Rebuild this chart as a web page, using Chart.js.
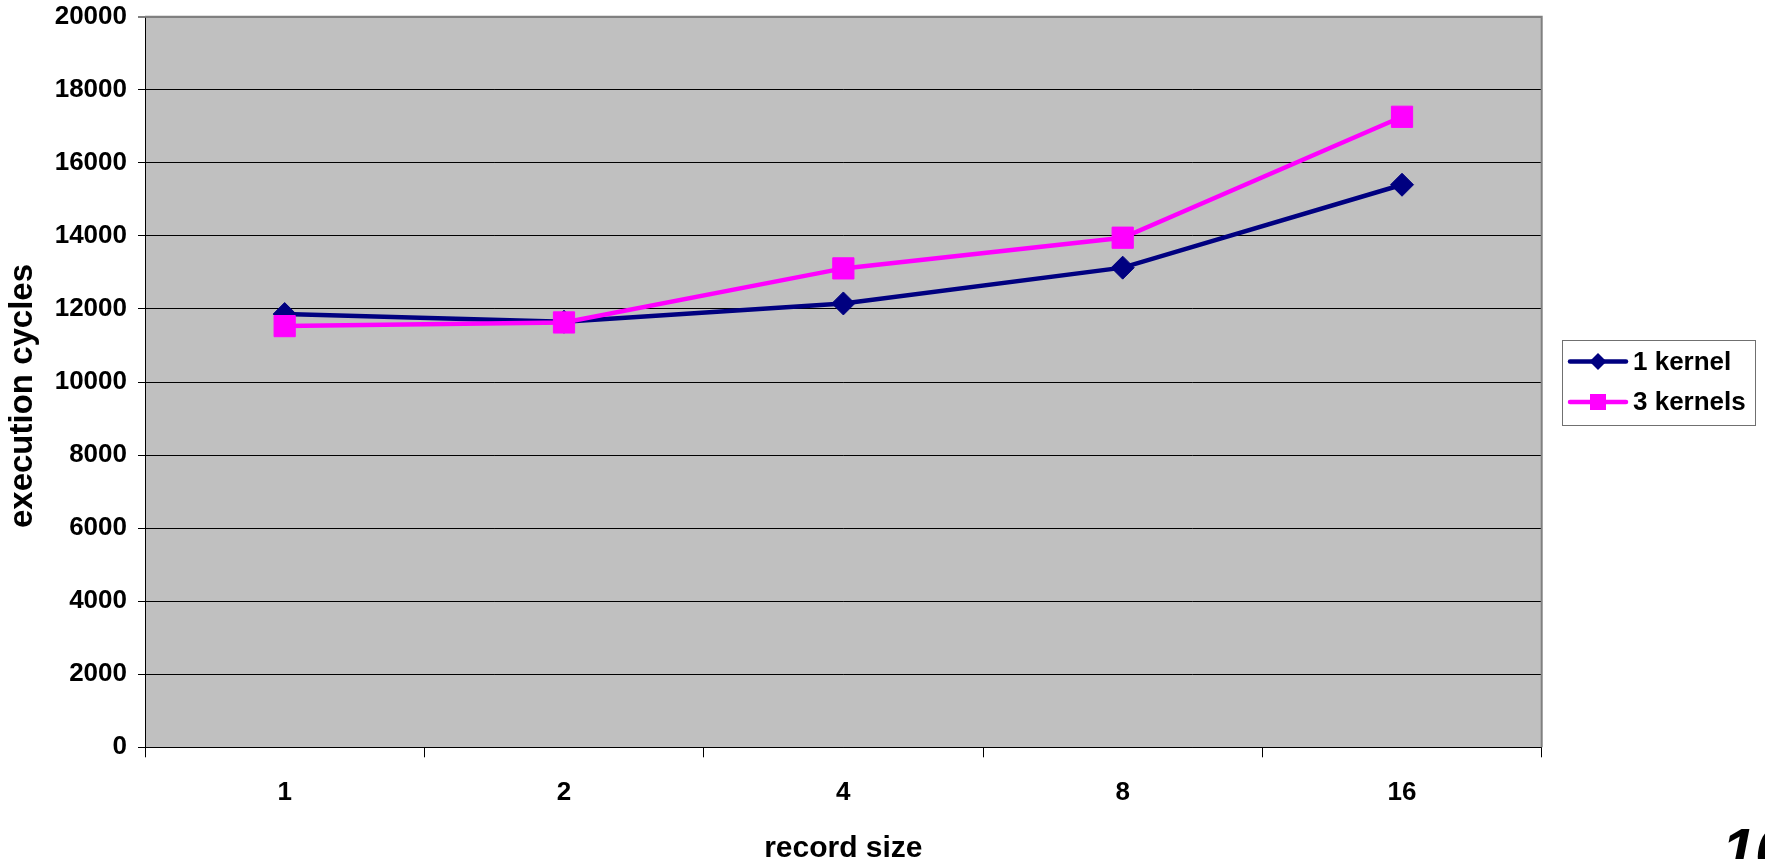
<!DOCTYPE html>
<html>
<head>
<meta charset="utf-8">
<script src="https://cdn.jsdelivr.net/npm/chart.js@4.4.1/dist/chart.umd.min.js"></script>
<style>
  html, body { margin: 0; padding: 0; background: #fff; overflow: hidden; width: 1765px; height: 859px; }
  #wrap { position: absolute; left: 0; top: 0; width: 1765px; height: 859px; }
  #pg { position: absolute; left: 1722px; top: 820px; font: italic bold 60px "Liberation Sans", Arial, sans-serif;
        line-height: 1; color: #000; white-space: nowrap; }
</style>
</head>
<body>
<div id="wrap"><canvas id="c" width="1765" height="859"></canvas></div>
<div id="pg">10</div>
<script>
// Record sizes on the x axis
const recordSizes = ['1', '2', '4', '8', '16'];
// Execution cycles per configuration
const oneKernel = [11860, 11650, 12150, 13130, 15400];
const threeKernels = [11530, 11630, 13110, 13950, 17260];
const seriesNames = ['1 kernel', '3 kernels'];
const xTitle = 'record size';
const yTitle = 'execution cycles';
// Value axis range
const yMin = 0;
const yMax = 20000;
const yStep = 2000;

const FONT = '"Liberation Sans", Arial, Helvetica, sans-serif';
const NAVY = '#000080';
const MAGENTA = '#FF00FF';

// Grey plot background, grey frame on top/right
const plotFrame = {
  id: 'plotFrame',
  beforeDraw(chart) {
    const { ctx, chartArea: a } = chart;
    ctx.save();
    ctx.fillStyle = '#fff';
    ctx.fillRect(0, 0, chart.width, chart.height);
    ctx.fillStyle = '#C0C0C0';
    ctx.fillRect(a.left, a.top, a.right - a.left, a.bottom - a.top);
    ctx.restore();
  },
  beforeDatasetsDraw(chart) {
    const { ctx, chartArea: a } = chart;
    ctx.save();
    ctx.strokeStyle = '#808080';
    ctx.lineWidth = 2;
    ctx.beginPath();
    ctx.moveTo(a.left, a.top);
    ctx.lineTo(a.right, a.top);
    ctx.lineTo(a.right, a.bottom);
    ctx.stroke();
    ctx.restore();
  }
};

// Vertical value-axis title, sitting a little below the plot's midline
const valueTitle = {
  id: 'valueTitle',
  afterDraw(chart) {
    const { ctx } = chart;
    ctx.save();
    ctx.translate(23, 396);
    ctx.rotate(-Math.PI / 2);
    ctx.fillStyle = '#000';
    ctx.font = 'bold 33px ' + FONT;
    ctx.textAlign = 'center';
    ctx.textBaseline = 'middle';
    ctx.fillText(yTitle, 0, 0);
    ctx.restore();
  }
};

// Boxed legend with line + marker samples
const boxLegend = {
  id: 'boxLegend',
  afterDraw(chart) {
    const { ctx } = chart;
    const box = { x: 1562, y: 340, w: 193, h: 85 };
    ctx.save();
    ctx.fillStyle = '#fff';
    ctx.fillRect(box.x, box.y, box.w, box.h);
    ctx.strokeStyle = '#707070';
    ctx.lineWidth = 1;
    ctx.strokeRect(box.x + 0.5, box.y + 0.5, box.w, box.h);
    const rows = [
      { ds: chart.data.datasets[1], y: 361.5 },
      { ds: chart.data.datasets[0], y: 402 }
    ];
    rows.forEach(r => {
      const c = r.ds.borderColor;
      ctx.strokeStyle = c;
      ctx.lineWidth = 4.5;
      ctx.lineCap = 'round';
      ctx.beginPath();
      ctx.moveTo(1570, r.y);
      ctx.lineTo(1626, r.y);
      ctx.stroke();
      ctx.fillStyle = c;
      const mx = 1598;
      if (r.ds.pointStyle === 'rectRot') {
        ctx.beginPath();
        ctx.moveTo(mx, r.y - 8.5);
        ctx.lineTo(mx + 8.5, r.y);
        ctx.lineTo(mx, r.y + 8.5);
        ctx.lineTo(mx - 8.5, r.y);
        ctx.closePath();
        ctx.fill();
      } else {
        ctx.fillRect(mx - 8, r.y - 8, 16, 16);
      }
      ctx.fillStyle = '#000';
      ctx.font = 'bold 26px ' + FONT;
      ctx.textBaseline = 'middle';
      ctx.textAlign = 'left';
      ctx.fillText(r.ds.label, 1633, r.y + 1);
    });
    ctx.restore();
  }
};

new Chart(document.getElementById('c'), {
  type: 'line',
  data: {
    labels: recordSizes,
    datasets: [
      {
        label: seriesNames[1],
        data: threeKernels,
        borderColor: MAGENTA,
        backgroundColor: MAGENTA,
        borderWidth: 4.5,
        pointStyle: 'rect',
        pointRadius: 15,
        pointBorderWidth: 1,
        pointBackgroundColor: MAGENTA,
        pointBorderColor: MAGENTA,
        tension: 0,
        order: 0
      },
      {
        label: seriesNames[0],
        data: oneKernel,
        borderColor: NAVY,
        backgroundColor: NAVY,
        borderWidth: 4.5,
        pointStyle: 'rectRot',
        pointRadius: 11.5,
        pointBorderWidth: 1,
        pointBackgroundColor: NAVY,
        pointBorderColor: NAVY,
        tension: 0,
        order: 1
      }
    ]
  },
  options: {
    responsive: false,
    devicePixelRatio: 1,
    animation: false,
    events: [],
    layout: { padding: { top: 16.7, right: 223.3, bottom: 0, left: 0 } },
    plugins: {
      legend: { display: false },
      tooltip: { enabled: false },
      title: { display: false }
    },
    scales: {
      x: {
        type: 'category',
        offset: true,
        grid: {
          offset: true,
          drawOnChartArea: false,
          drawTicks: true,
          tickLength: 10,
          color: '#000',
          lineWidth: 1
        },
        border: { display: true, color: '#000', width: 1 },
        ticks: {
          color: '#000',
          font: { family: FONT, size: 26, weight: 'bold' },
          padding: 20,
          maxRotation: 0,
          autoSkip: false
        },
        title: {
          display: true,
          text: xTitle,
          color: '#000',
          font: { family: FONT, size: 30, weight: 'bold', lineHeight: 1 },
          padding: { top: 0, bottom: -4.5 }
        },
        afterFit(scale) { scale.height = 111.7; }
      },
      y: {
        min: yMin,
        max: yMax,
        grid: {
          drawTicks: true,
          tickLength: 7,
          color: ctx => (ctx.tick && ctx.tick.value === yMax ? '#808080' : '#000'),
          lineWidth: ctx => (ctx.tick && ctx.tick.value === yMax ? 2 : 1)
        },
        border: { display: true, color: '#000', width: 1 },
        ticks: {
          stepSize: yStep,
          color: '#000',
          font: { family: FONT, size: 26, weight: 'bold' },
          padding: 11,
          callback: v => String(v)
        },
        title: { display: false },
        afterFit(scale) {
          scale.width = 145;
          scale.paddingTop = 0;
          scale.paddingBottom = 0;
        }
      }
    }
  },
  plugins: [plotFrame, valueTitle, boxLegend]
});
</script>
</body>
</html>
